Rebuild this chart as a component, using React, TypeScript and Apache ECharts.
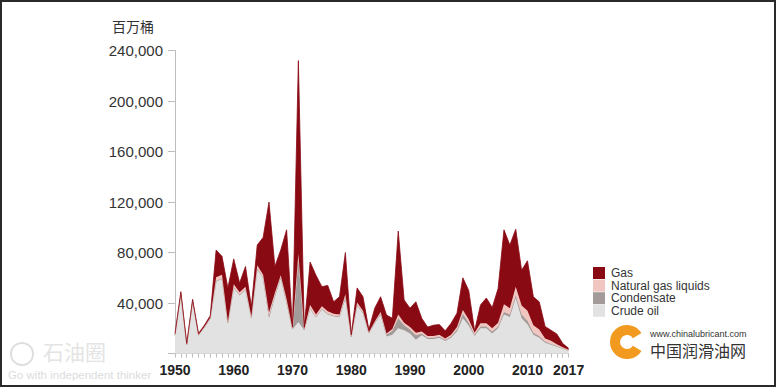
import React, { useEffect, useRef } from "react";
import * as echarts from "echarts";

const years: string[] = Array.from({ length: 68 }, (_, i) => String(1950 + i));

// million barrels of oil equivalent discovered per year
const crudeOil = [
  14500, 46500, 6800, 41000, 14500, 20800, 27500, 57000, 59000, 24000,
  52000, 46000, 50500, 28000, 67000, 60000, 28000, 45000, 60000, 40000,
  19000, 25000, 18500, 35500, 28500, 35000, 31000, 29500, 29000, 44000,
  13000, 38000, 32000, 16000, 24000, 31000, 13500, 15000, 20000, 18500,
  16000, 11000, 14500, 11500, 11500, 12500, 10000, 12500, 17500, 28000,
  22000, 14000, 20000, 20000, 16000, 20000, 31000, 29000, 44000, 28000,
  23000, 15000, 12500, 8500, 7000, 5500, 3800, 2300,
];
const condensate = [
  0, 0, 0, 0, 0, 0, 0, 500, 500, 300,
  500, 500, 500, 300, 500, 500, 2000, 1000, 500, 1000,
  500, 50000, 500, 500, 500, 500, 500, 500, 500, 1000,
  300, 500, 500, 300, 500, 500, 1500, 3000, 8000, 4000,
  3000, 3500, 1500, 1000, 1000, 1000, 700, 1000, 1500, 3500,
  2500, 1000, 1500, 1500, 1500, 1500, 2000, 2000, 2000, 3000,
  3000, 1500, 1500, 1000, 700, 500, 300, 200,
];
const naturalGasLiquids = [
  500, 800, 400, 600, 500, 500, 800, 3000, 3000, 1000,
  2500, 2000, 2000, 1000, 2500, 2000, 2500, 2000, 1500, 2000,
  500, 4000, 500, 2500, 2000, 2000, 2000, 1500, 1500, 2000,
  500, 2000, 1500, 700, 1000, 1500, 1000, 1500, 3000, 2000,
  2000, 2000, 1500, 1500, 1500, 1500, 1300, 1500, 2000, 3000,
  2500, 1500, 2500, 2500, 2500, 3000, 6000, 5000, 7000, 7000,
  8000, 6000, 5000, 2500, 2500, 1500, 1000, 500,
];
const gas = [
  1000, 1700, 800, 1400, 1000, 1200, 1700, 21500, 14500, 26700,
  20000, 7500, 16000, 7700, 16000, 29500, 87500, 21000, 20000, 55000,
  1000, 153000, 1500, 34000, 31000, 15500, 20500, 9500, 14000, 33000,
  1200, 11500, 11000, 2000, 10500, 12000, 14500, 8500, 66000, 18000,
  15000, 24500, 10500, 7000, 8500, 8000, 6000, 9000, 11000, 25500,
  23000, 1500, 14500, 20000, 16500, 27000, 59000, 50000, 45500, 28000,
  39500, 22500, 22000, 9500, 8300, 8000, 2900, 1200,
];

const legendNames = ["Gas", "Natural gas liquids", "Condensate", "Crude oil"];
const yTicks = [0, 40000, 80000, 120000, 160000, 200000, 240000];

const COLORS = {
  crude: "#e3e2e2",
  cond: "#a39b99",
  ngl: "#f1c6c0",
  gas: "#8a0a14",
};

const FONT = "'Liberation Sans', Arial, Helvetica, sans-serif";
const CJK = "'Noto Sans CJK SC', sans-serif";

export default function App() {
  const ref = useRef<HTMLDivElement>(null);

  useEffect(() => {
    if (!ref.current) return;
    const chart = echarts.init(ref.current, null, { renderer: "svg" });

    const mk = (name: string, data: number[], color: string, z: number) => ({
      name,
      type: "line",
      stack: "total",
      data,
      symbol: "none",
      showSymbol: false,
      color,
      z,
      lineStyle: { width: 0.8, color },
      areaStyle: { color, opacity: 1 },
      itemStyle: { color },
    });

    chart.setOption({
      animation: false,
      backgroundColor: "#ffffff",
      textStyle: { fontFamily: FONT },
      grid: { left: 175, right: 207.4, top: 50.5, bottom: 34.4, containLabel: false },
      legend: {
        orient: "vertical",
        left: 588,
        top: 262,
        itemWidth: 12,
        itemHeight: 12,
        itemGap: 0.6,
        icon: "rect",
        data: legendNames,
        textStyle: { fontSize: 12, color: "#333", fontFamily: FONT, lineHeight: 12, padding: [0, 0, 0, 1] },
        selectedMode: false,
      },
      xAxis: {
        type: "category",
        data: years,
        boundaryGap: false,
        axisLine: { show: true, lineStyle: { color: "#c8c8c8", width: 1 } },
        axisTick: { show: true, interval: 0, length: 4, lineStyle: { color: "#bdbdbd" } },
        axisLabel: {
          interval: (i: number, v: string) => {
            const y = Number(v);
            return (y - 1950) % 10 === 0 || y === 2017;
          },
          fontSize: 14,
          fontWeight: "bold",
          color: "#222",
          margin: 9,
          fontFamily: FONT,
        },
        splitLine: { show: false },
      },
      yAxis: {
        type: "value",
        min: yTicks[0],
        max: yTicks[yTicks.length - 1],
        interval: 40000,
        axisLine: { show: true, lineStyle: { color: "#bdbdbd", width: 1 } },
        axisTick: { show: true, length: 7, lineStyle: { color: "#bdbdbd" } },
        axisLabel: {
          formatter: (v: number) => (v === 0 ? "" : v.toLocaleString("en-US")),
          fontSize: 15,
          color: "#333",
          margin: 12,
          fontFamily: FONT,
        },
        splitLine: { show: false },
      },
      series: [
        mk("Crude oil", crudeOil, COLORS.crude, 1),
        mk("Condensate", condensate, COLORS.cond, 2),
        mk("Natural gas liquids", naturalGasLiquids, COLORS.ngl, 3),
        mk("Gas", gas, COLORS.gas, 4),
      ],
      graphic: [
        {
          type: "rect",
          shape: { x: 1, y: 1, width: 774, height: 385 },
          style: { fill: "none", stroke: "#2a2a2a", lineWidth: 2 },
          silent: true,
          z: 100,
        },
        {
          type: "text",
          left: 112,
          top: 19,
          style: { text: "百万桶", fontSize: 14, fill: "#333", fontFamily: CJK },
        },
        // left watermark
        {
          type: "circle",
          shape: { cx: 22, cy: 354, r: 11 },
          style: { fill: "none", stroke: "#dedede", lineWidth: 2 },
          z: 50,
        },
        {
          type: "text",
          left: 43,
          top: 340,
          style: { text: "石油圈", fontSize: 21, fill: "#e4e4e4", fontFamily: CJK, letterSpacing: 1 },
          z: 50,
        },
        {
          type: "text",
          left: 8,
          top: 369,
          style: { text: "Go with independent thinker", fontSize: 11.5, fill: "#dcdcdc", fontFamily: FONT },
          z: 50,
        },
        // right watermark
        {
          type: "arc",
          shape: { cx: 627, cy: 342, r: 12, startAngle: 0.55, endAngle: Math.PI * 2 - 0.55 },
          style: { stroke: "#f29a1f", lineWidth: 10, fill: "none" },
          z: 50,
        },
        {
          type: "text",
          left: 650,
          top: 329,
          style: { text: "www.chinalubricant.com", fontSize: 9, fill: "#333", fontFamily: FONT },
          z: 50,
        },
        {
          type: "text",
          left: 650,
          top: 342,
          style: { text: "中国润滑油网", fontSize: 16, fill: "#333", fontFamily: CJK },
          z: 50,
        },
      ],
    });

    return () => chart.dispose();
  }, []);

  return (
    <div
      ref={ref}
      style={{ position: "fixed", left: 0, top: 0, width: 776, height: 388, background: "#fff" }}
    />
  );
}
